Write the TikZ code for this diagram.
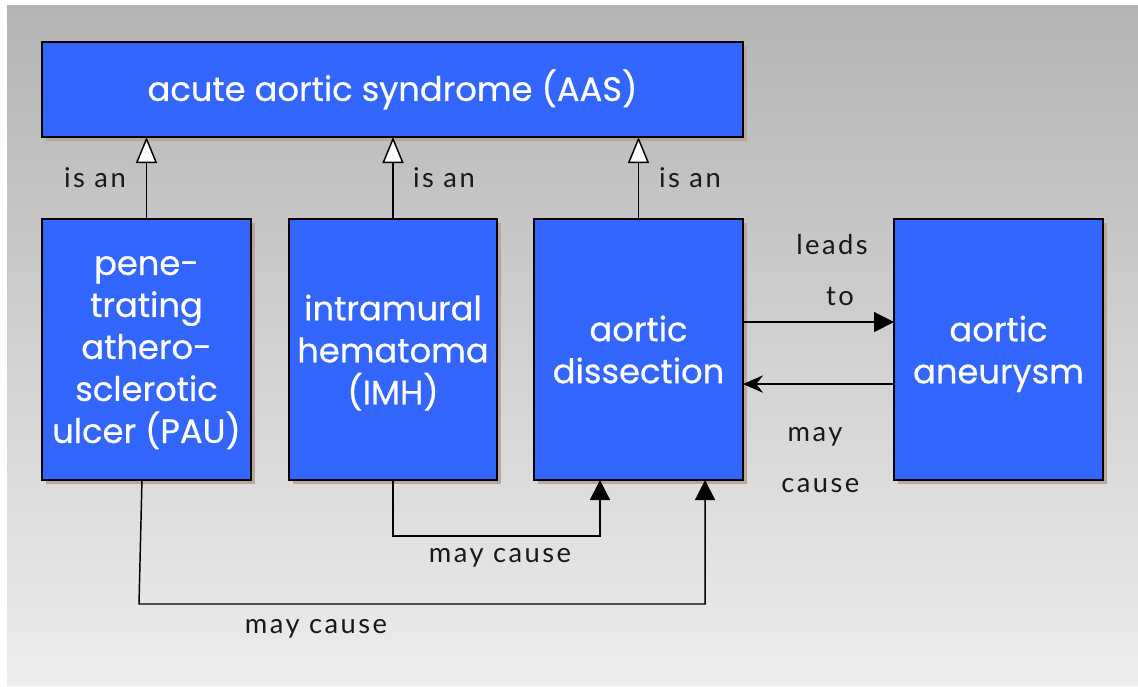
\documentclass[tikz,border=0pt]{standalone}
\usepackage{fontspec}
\setmainfont{Poppins}[FakeBold=0.6]
\newfontfamily\handfont[LetterSpace=9]{Lato}
\usetikzlibrary{arrows.meta,shadows}
\definecolor{boxblue}{RGB}{51,102,255}
\definecolor{boxshadow}{RGB}{182,170,150}
\definecolor{bgtop}{RGB}{180,180,180}
\definecolor{bgbottom}{RGB}{237,237,237}
% last line of a box without its depth, so boxes centre alike
\newcommand\nodepth[1]{\raisebox{0pt}[\height][0pt]{#1}}
\begin{document}
\begin{tikzpicture}[x=0.75pt,y=-0.75pt,
  concept/.style={draw=black,line width=1.1pt,fill=boxblue,text=white,
    inner sep=0pt,outer sep=0pt,align=center,
    font=\fontsize{25.3}{31.5}\selectfont,
    drop shadow={shadow xshift=3pt,shadow yshift=-3pt,fill=boxshadow,opacity=1}},
  tallbox/.style={concept,minimum width=156.75pt,minimum height=195.75pt},
  link/.style={draw=black,line width=1.1pt},
  isa/.style={link,-{Triangle[open,fill=white,length=19.5pt,width=15.75pt]}},
  causes/.style={link,-{Triangle[length=15pt,width=15pt]}},
  back/.style={link,-{Stealth[length=15pt,width=13pt,inset=5pt]}},
  lbl/.style={font=\handfont\fontsize{20.5}{38}\selectfont,text=black!90,align=center,inner sep=0pt}]
  \useasboundingbox (0,0) rectangle (1138,686);
  \shade[top color=bgtop,bottom color=bgbottom] (7,5) rectangle (1138,685);

  % concepts
  \node[concept,minimum width=525.75pt,minimum height=71.25pt] (aas) at (392.5,89.5)
    {\raisebox{-1.5pt}{acute aortic syndrome (AAS)}};
  \node[tallbox] (pau) at (146.5,349.5)
    {\raisebox{-2.2pt}{\parbox{150pt}{\centering pene-\\trating\\athero-\\sclerotic\\\nodepth{ulcer (PAU)}}}};
  \node[tallbox,minimum width=156pt] (imh) at (393,349.5)
    {intramural\\hematoma\\\nodepth{(IMH)}};
  \node[tallbox] (dis) at (638.5,349.5) {aortic\\dissection};
  \node[tallbox] (ane) at (998.5,349.5) {aortic\\\nodepth{aneurysm}};

  % is-a relations
  \draw[isa] (pau.north) -- (pau.north |- aas.south);
  \draw[isa] (imh.north) -- (imh.north |- aas.south);
  \draw[isa] (dis.north) -- (dis.north |- aas.south);
  \node[lbl] at (95,178) {is an};
  \node[lbl] at (444,178) {is an};
  \node[lbl] at (690,178) {is an};

  % dissection <-> aneurysm
  \draw[causes] ([yshift=20.6pt]dis.east) -- ([yshift=20.6pt]ane.west);
  \draw[back] ([yshift=-25.9pt]ane.west) -- ([yshift=-25.9pt]dis.east);
  \node[lbl] at (832,270) {leads\\\hspace*{12pt}to};
  \node[lbl] at (815,460) {may\\\hspace*{8pt}cause};

  % causes of dissection from below
  \coordinate (imhturn) at (393,536);
  \coordinate (pauturn) at (139,604);
  \draw[causes] (imh.south) -- (imhturn) -| ([xshift=-28.9pt]dis.south);
  \draw[causes] ([xshift=-3.4pt]pau.south) -- (pauturn) -| ([xshift=49.9pt]dis.south);
  \node[lbl] at (500,558) {may cause};
  \node[lbl] at (316,629) {may cause};
\end{tikzpicture}
\end{document}
